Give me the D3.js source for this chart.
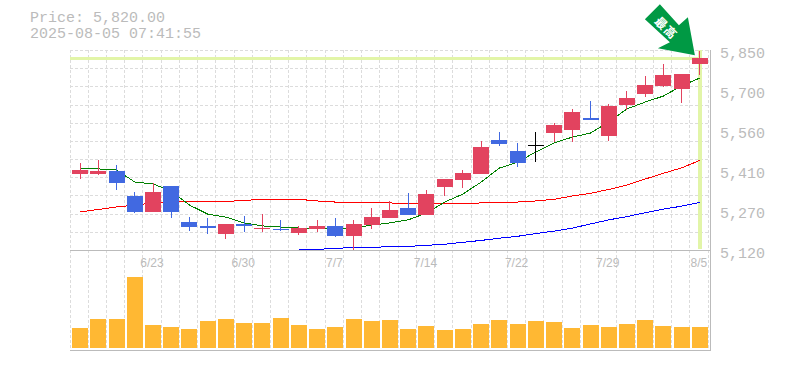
<!DOCTYPE html>
<html>
<head>
<meta charset="utf-8">
<script src="https://cdnjs.cloudflare.com/ajax/libs/d3/7.8.5/d3.min.js"></script>
<style>
html,body{margin:0;padding:0;background:#fff;overflow:hidden}
svg{display:block}
</style>
</head>
<body>
<svg id="chart" width="785" height="370"></svg>
<script>
const titlePrice = "Price: 5,820.00";
const titleTime = "2025-08-05 07:41:55";
const arrowLabel = "最高";
const lastPrice = 5820;
const dates = ["6/17","6/18","6/19","6/20","6/23","6/24","6/25","6/26","6/27","6/30","7/1","7/2","7/3","7/4","7/7","7/8","7/9","7/10","7/11","7/14","7/15","7/16","7/17","7/18","7/22","7/23","7/24","7/25","7/28","7/29","7/30","7/31","8/1","8/4","8/5"];
const dateLabels = ["6/23","6/30","7/7","7/14","7/22","7/29","8/5"];
const priceLabels = ["5,850","5,700","5,560","5,410","5,270","5,120"];
const opens  = [5397,5397,5408,5317,5259,5354,5222,5208,5178,5215,5197,5197,5182,5197,5208,5171,5211,5237,5273,5248,5350,5376,5397,5522,5481,5503,5547,5558,5602,5536,5649,5689,5719,5708,5799];
const highs  = [5438,5448,5430,5332,5365,5354,5240,5237,5215,5244,5251,5230,5208,5230,5237,5230,5273,5299,5328,5339,5379,5412,5518,5551,5511,5551,5584,5635,5664,5653,5700,5755,5799,5762,5846];
const lows   = [5379,5394,5339,5255,5259,5237,5189,5178,5160,5186,5186,5189,5175,5186,5168,5120,5197,5237,5248,5248,5317,5346,5397,5500,5423,5441,5514,5514,5595,5518,5631,5679,5715,5657,5759];
const closes = [5412,5408,5365,5259,5332,5259,5204,5200,5215,5208,5200,5193,5200,5208,5171,5215,5240,5266,5248,5324,5379,5401,5496,5507,5438,5503,5576,5624,5595,5646,5675,5722,5759,5762,5820];
const maShort = [5416,5416,5412,5368,5361,5335,5284,5251,5240,5219,5208,5204,5200,5200,5200,5200,5211,5219,5230,5255,5295,5324,5368,5419,5441,5478,5511,5532,5547,5587,5635,5660,5682,5719,5748];
const maMid = [5259,5268,5277,5284,5292,5295,5297,5297,5297,5301,5305,5305,5305,5299,5295,5292,5292,5292,5288,5288,5288,5288,5292,5295,5295,5299,5305,5317,5327,5341,5357,5379,5400,5420,5447];
const maLongStart = 12;
const maLong = [5120,5122,5126,5129,5129,5133,5133,5137,5141,5148,5155,5163,5170,5180,5189,5200,5215,5230,5242,5256,5269,5280,5294];
const volumes = [20,29,29,71,23,21,19,27,29,25,25,30,23,19,21,29,27,28,19,22,18,19,24,28,24,27,26,20,23,21,24,28,22,21,21];

const colUp = "#e2435f", colDown = "#4169e1", colFlat = "#000000";
const svg = d3.select("#chart");
const x = d3.scaleBand().domain(dates).range([71, 709]);
const cx = d => x(d) + x.bandwidth() / 2;
const y = d3.scaleLinear().domain([5120, 5850]).range([250, 50]);
const yVol = d3.scaleLinear().domain([0, 98]).range([348, 250]);
const yLabel = d3.scalePoint().domain(priceLabels).range([50, 250]);
const gridY = d3.range(12).map(i => 5120 + i * 730 / 11);
const gridDates = dates.concat([null]);

// grid
const edge = d => d === null ? 708 : Math.floor(x(d) - 1);
svg.append("g").selectAll("line").data(gridDates).join("line")
  .attr("x1", d => edge(d) + 0.5).attr("x2", d => edge(d) + 0.5)
  .attr("y1", 50).attr("y2", 350)
  .attr("stroke", "#dcdcdc").attr("stroke-dasharray", "3,2");
svg.append("g").selectAll("line").data(gridY).join("line")
  .attr("x1", 70).attr("x2", 710)
  .attr("y1", d => Math.round(y(d)) + 0.5).attr("y2", d => Math.round(y(d)) + 0.5)
  .attr("stroke", "#dcdcdc").attr("stroke-dasharray", "3,2");

// frame
const frame = svg.append("g").attr("stroke", "#bbbbbb");
frame.append("line").attr("x1", 70).attr("x2", 710).attr("y1", 250.5).attr("y2", 250.5);
frame.append("line").attr("x1", 70).attr("x2", 711).attr("y1", 350.5).attr("y2", 350.5);
frame.append("line").attr("x1", 710.5).attr("x2", 710.5).attr("y1", 50).attr("y2", 351);

// current price cross
const lastDate = dates[dates.length - 1];
svg.append("rect").attr("x", 70).attr("y", Math.round(y(lastPrice)) - 1)
  .attr("width", Math.round(cx(lastDate)) - 68).attr("height", 3).attr("fill", "#e2f5a8");
svg.append("rect").attr("x", Math.round(cx(lastDate)) - 2).attr("y", 50)
  .attr("width", 4).attr("height", 199).attr("fill", "#e2f5a8");

// moving averages
const crisp = sel => sel.attr("fill", "none").attr("stroke-width", 1).attr("shape-rendering", "crispEdges");
const line = d3.line().x(d => cx(d.date)).y(d => y(d.v));
const series = (arr, start) => arr.map((v, i) => ({ date: dates[i + start], v }));
crisp(svg.append("path").datum(series(maLong, maLongStart)).attr("d", line).attr("stroke", "#0000ff"));
crisp(svg.append("path").datum(series(maMid, 0)).attr("d", line).attr("stroke", "#ff0000"));
crisp(svg.append("path").datum(series(maShort, 0)).attr("d", line).attr("stroke", "#008000"));

// candles
const candles = dates.map((date, i) => ({ date, o: opens[i], h: highs[i], l: lows[i], c: closes[i] }));
const col = d => d.c > d.o ? colUp : d.c < d.o ? colDown : colFlat;
const cg = svg.append("g").selectAll("g").data(candles).join("g");
cg.append("rect")
  .attr("x", d => Math.floor(cx(d.date)))
  .attr("y", d => Math.round(y(d.h)))
  .attr("width", 1)
  .attr("height", d => Math.round(y(d.l)) - Math.round(y(d.h)))
  .attr("fill", col);
cg.append("rect")
  .attr("x", d => Math.round(cx(d.date) - 8))
  .attr("y", d => Math.round(y(Math.max(d.o, d.c))))
  .attr("width", 16)
  .attr("height", d => Math.max(1, Math.round(y(Math.min(d.o, d.c))) - Math.round(y(Math.max(d.o, d.c)))))
  .attr("fill", col);

// volume
svg.append("g").selectAll("rect").data(volumes).join("rect")
  .attr("x", (d, i) => Math.round(cx(dates[i]) - 8))
  .attr("y", d => yVol(d))
  .attr("width", 16)
  .attr("height", d => yVol(0) - yVol(d))
  .attr("fill", "#ffb833");

// axis labels
svg.append("g").selectAll("text").data(priceLabels).join("text")
  .attr("x", 720).attr("y", d => yLabel(d) + 8)
  .attr("font-family", "'Liberation Mono', monospace").attr("font-size", 15)
  .attr("fill", "#bbbbbb").text(d => d);
svg.append("g").selectAll("text").data(dateLabels).join("text")
  .attr("x", d => cx(d) - 1).attr("y", 267).attr("text-anchor", "middle")
  .attr("font-family", "'Liberation Sans', sans-serif").attr("font-size", 12)
  .attr("fill", "#bbbbbb").text(d => d);

// title
const title = svg.append("g").attr("font-family", "'Liberation Mono', monospace")
  .attr("font-size", 15).attr("fill", "#bbbbbb");
title.append("text").attr("x", 30).attr("y", 22).text(titlePrice);
title.append("text").attr("x", 30).attr("y", 38).text(titleTime);

// arrow
const ax = cx(lastDate) - 5, ay = y(lastPrice) - 3;
const arrow = svg.append("g").attr("transform", `translate(${ax},${ay})`);
arrow.append("path")
  .attr("d", "M0,0 L-37,-7 L-25,-13 L-50,-36 L-35,-51 L-16,-30 L-7,-38 Z")
  .attr("fill", "#009944");
arrow.append("text")
  .attr("transform", "translate(-28,-28) rotate(45)")
  .attr("text-anchor", "middle").attr("dominant-baseline", "central")
  .attr("font-family", "'Noto Sans CJK JP', sans-serif").attr("font-weight", 700)
  .attr("font-size", 12).attr("letter-spacing", 1).attr("fill", "#ffffff").text(arrowLabel);
</script>
</body>
</html>
